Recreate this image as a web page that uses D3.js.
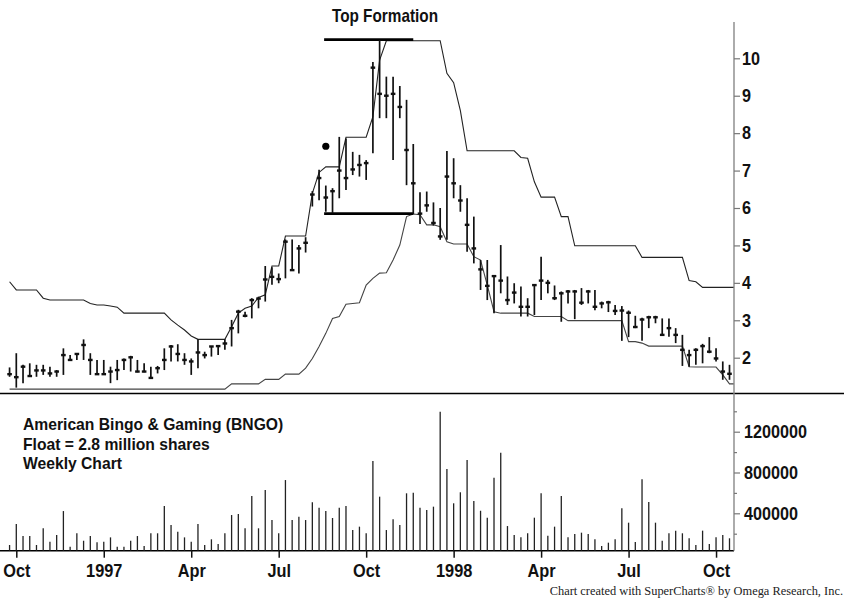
<!DOCTYPE html>
<html><head><meta charset="utf-8">
<script src="https://cdn.jsdelivr.net/npm/d3@7"></script>
<style>
html,body{margin:0;padding:0;background:#fff;}
svg{display:block;}
.cond{font-family:"Liberation Sans",Arial,Helvetica,sans-serif;font-weight:bold;}
</style></head><body>
<svg id="c" width="844" height="602"></svg>
<script>
// ---- data (weekly, Sep 1996 - Oct 1998) ----
const high = [1.74,2.12,1.81,1.85,1.81,1.81,1.76,1.67,2.25,2.07, 2.12,2.49,2.12,1.94,1.94,1.76,1.94,1.98,2.05,1.94,
  1.85,1.76,1.78,2.25,2.34,2.36,2.12,1.98,2.49,2.16, 2.31,2.34,2.49,3.01,3.28,3.23,3.59,3.63,4.45,4.42,
  4.25,5.16,5.16,5.01,5.22,6.45,7.02,6.60,6.53,7.90, 7.86,7.50,7.42,7.28,9.90,10.49,9.51,9.51,9.26,8.89,
  7.71,6.42,6.44,6.15,6.00,7.52,7.33,6.61,6.26,5.77, 4.61,4.61,4.21,5.01,4.17,3.99,3.90,3.59,3.94,4.70,
  4.08,3.93,3.77,3.81,3.81,3.86,3.81,3.81,3.50,3.52, 3.41,3.38,3.26,3.12,3.07,3.12,3.12,3.05,3.05,2.79,
  2.61,2.21,2.25,2.37,2.55,2.25,1.90,1.81];
const low = [1.49,1.20,1.32,1.49,1.49,1.54,1.49,1.49,1.54,1.94, 1.94,1.94,1.54,1.54,1.54,1.32,1.40,1.67,1.63,1.61,
  1.61,1.45,1.58,1.67,1.90,1.90,1.81,1.54,1.72,1.98, 2.03,2.07,2.21,2.30,2.65,3.08,3.05,3.32,3.50,3.95,
  3.99,4.12,4.34,4.25,4.81,6.04,6.21,5.90,5.86,6.26, 6.48,6.88,6.84,6.75,7.46,8.40,8.40,7.28,8.40,6.61,
  5.84,5.57,5.90,5.53,5.15,5.15,6.26,5.90,4.83,4.52, 3.81,3.54,3.19,3.72,3.41,3.45,3.10,3.10,3.14,3.54,
  3.72,3.54,2.96,3.45,3.03,3.41,3.45,3.27,3.32,3.22, 3.14,2.45,2.55,2.79,2.45,2.79,2.92,2.58,2.56,2.39,
  1.78,1.76,1.81,1.85,2.12,1.90,1.41,1.41];
const close = [1.56,1.48,1.76,1.51,1.66,1.66,1.58,1.63,2.07,1.94, 2.10,2.34,1.94,1.56,1.56,1.63,1.67,1.94,2.01,1.63,
  1.63,1.46,1.72,1.94,2.30,2.10,1.94,1.90,2.14,2.07, 2.30,2.31,2.38,2.79,3.23,3.12,3.54,3.58,4.09,4.16,
  4.10,5.10,4.34,4.92,5.07,6.36,6.80,6.28,6.45,7.00, 6.80,7.03,7.15,7.20,9.75,9.05,9.00,9.05,8.70,7.55,
  6.66,5.85,6.07,5.60,5.24,6.84,6.66,6.20,5.55,4.92, 4.36,3.92,4.18,4.06,3.54,3.74,3.36,3.36,3.94,4.06,
  4.00,3.59,3.72,3.77,3.77,3.47,3.77,3.36,3.45,3.48, 3.25,3.26,3.20,2.82,3.02,3.08,3.08,2.61,2.79,2.61,
  2.21,2.07,2.21,2.31,2.16,1.98,1.63,1.57];
const upperBand = [4.03,3.81,3.81,3.81,3.81,3.59,3.54,3.54,3.54,3.54, 3.54,3.54,3.45,3.41,3.41,3.38,3.35,3.19,3.19,3.19,
  3.19,3.19,3.19,3.19,3.01,2.87,2.74,2.58,2.49,2.49, 2.49,2.49,2.49,2.83,3.19,3.32,3.38,3.61,3.68,4.45,
  4.45,5.25,5.25,5.25,5.25,6.39,6.95,7.10,7.10,7.10, 7.89,7.89,7.89,7.89,8.44,9.95,10.47,10.47,10.47,10.47,
  10.47,10.47,10.47,10.47,10.47,9.60,9.35,8.60,7.53,7.53, 7.53,7.53,7.53,7.53,7.53,7.53,7.35,7.33,6.70,6.29,
  6.29,6.29,5.77,5.77,4.99,4.99,4.99,4.99,4.99,4.99, 4.99,4.99,4.99,4.99,4.68,4.68,4.68,4.68,4.68,4.68,
  4.68,4.06,4.03,3.88,3.88,3.88,3.88,3.88];
const lowerBand = [1.16,1.16,1.16,1.16,1.16,1.16,1.16,1.16,1.16,1.16, 1.16,1.16,1.16,1.16,1.16,1.16,1.16,1.16,1.16,1.16,
  1.16,1.16,1.16,1.16,1.16,1.16,1.16,1.16,1.16,1.16, 1.16,1.16,1.16,1.30,1.30,1.30,1.30,1.30,1.42,1.42,
  1.42,1.56,1.56,1.56,1.72,1.98,2.30,2.65,3.05,3.10, 3.43,3.45,3.47,3.94,4.12,4.26,4.27,4.61,5.01,5.77,
  5.84,5.82,5.55,5.55,5.50,5.10,5.04,5.04,5.04,4.70, 4.61,3.94,3.23,3.19,3.19,3.19,3.19,3.19,3.10,3.10,
  3.10,3.10,3.10,2.99,2.99,2.99,2.99,2.99,2.99,2.99, 2.99,2.99,2.43,2.43,2.39,2.31,2.31,2.31,2.31,2.31,
  2.31,1.76,1.75,1.75,1.75,1.75,1.54,1.30];
const volume = [89000,295000,177000,177000,89000,253000,122000,187000,422000,73000,
  204000,131000,177000,115000,122000,164000,73000,73000,131000,177000,
  80000,204000,204000,471000,285000,220000,164000,122000,295000,89000,
  145000,99000,204000,383000,393000,253000,570000,253000,628000,334000,
  204000,726000,334000,367000,334000,508000,455000,422000,354000,455000,
  471000,236000,269000,204000,913000,563000,236000,341000,285000,596000,
  602000,455000,432000,465000,1396000,834000,498000,606000,922000,520000,
  425000,357000,749000,994000,275000,187000,164000,204000,357000,596000,
  181000,269000,570000,164000,197000,210000,197000,145000,80000,112000,
  145000,449000,308000,119000,733000,511000,308000,131000,204000,230000,
  204000,155000,89000,230000,99000,164000,187000,155000];
const xTickIndex = [1,14,27,40,53,66,79,92,105];
const xTickLabels = ["Oct","1997","Apr","Jul","Oct","1998","Apr","Jul","Oct"];
const priceTicks = [2,3,4,5,6,7,8,9,10];
const volumeTicks = [400000,800000,1200000];
const volumeMinorTicks = [200000,600000,1000000,1400000];
const formationStart = 46.75, formationEnd = 60, formationTop = 10.5, formationBottom = 5.85;
const markerIndex = 47, markerPrice = 7.65;
const titleText = "Top Formation";
const infoLines = ["American Bingo & Gaming (BNGO)", "Float = 2.8 million shares", "Weekly Chart"];
const footerText = "Chart created with SuperCharts\u00AE by Omega Research, Inc.";

// ---- layout ----
const W = 844, H = 602;
const axisX = 734;
const sepY = 393.5, volBase = 550.7;
const svg = d3.select("#c");

const x = d3.scaleLinear().domain([0, 107]).range([9.57, 729.5]);
const yP = d3.scaleLinear().domain([2, 10]).range([357.7, 58.3]);
const yV = d3.scaleLinear().domain([0, 1400000]).range([554.1, 411.3]);

// condense text horizontally about its anchor x
function condense(sel, k) {
  sel.each(function() {
    const t = d3.select(this);
    const ax = +(t.attr("x") || 0);
    t.attr("transform", `translate(${ax},0) scale(${k},1) translate(${-ax},0)`);
  });
}

// separator & baselines
svg.append("line").attr("x1",0).attr("x2",W).attr("y1",sepY).attr("y2",sepY)
  .attr("stroke","#000").attr("stroke-width",1.6);
svg.append("line").attr("x1",0).attr("x2",axisX).attr("y1",volBase).attr("y2",volBase)
  .attr("stroke","#000").attr("stroke-width",1.4);

// bands
const idx = d3.range(high.length);
const bandLine = arr => d3.line().x(d => d[0]).y(d => yP(d[1]))(
  idx.map(i => [x(i), arr[i]]).concat([[axisX, arr[arr.length-1]]]));
svg.append("path").attr("d", bandLine(upperBand)).attr("fill","none")
  .attr("stroke","#222").attr("stroke-width",1.1);
svg.append("path").attr("d", bandLine(lowerBand)).attr("fill","none")
  .attr("stroke","#444").attr("stroke-width",1.1);

// formation box
[formationTop, formationBottom].forEach(p => {
  svg.append("line").attr("x1", x(formationStart)).attr("x2", x(formationEnd))
    .attr("y1", yP(p)).attr("y2", yP(p)).attr("stroke","#000").attr("stroke-width",2.6);
});

// price bars
const bars = svg.append("g");
bars.selectAll("line.hl").data(idx).join("line").attr("class","hl")
  .attr("x1", i => x(i)).attr("x2", i => x(i))
  .attr("y1", i => yP(high[i])).attr("y2", i => yP(low[i]))
  .attr("stroke","#111").attr("stroke-width",1.7);
bars.selectAll("line.cl").data(idx).join("line").attr("class","cl")
  .attr("x1", i => x(i) - 2.3).attr("x2", i => x(i) + 2.3)
  .attr("y1", i => yP(close[i])).attr("y2", i => yP(close[i]))
  .attr("stroke","#111").attr("stroke-width",2.4);

// marker
svg.append("circle").attr("cx", x(markerIndex)).attr("cy", yP(markerPrice)).attr("r",3.6).attr("fill","#000");

// volume bars
svg.append("g").selectAll("line").data(idx).join("line")
  .attr("x1", i => x(i)).attr("x2", i => x(i))
  .attr("y1", volBase).attr("y2", i => yV(volume[i]))
  .attr("stroke","#222").attr("stroke-width",1.3);

// right axis line
svg.append("line").attr("x1",axisX).attr("x2",axisX).attr("y1",22).attr("y2",volBase)
  .attr("stroke","#888").attr("stroke-width",1.4);

// price axis
const pAx = svg.append("g").attr("transform",`translate(${axisX},0)`)
  .call(d3.axisRight(yP).tickValues(priceTicks).tickSize(6).tickPadding(2).tickFormat(d3.format("d")));
pAx.select(".domain").remove();
pAx.selectAll("line").attr("stroke","#777").attr("stroke-width",1.2);
pAx.selectAll("text").attr("class","cond").attr("font-size",18).attr("fill","#111").call(condense, 0.9);

// volume axis
const vAx = svg.append("g").attr("transform",`translate(${axisX},0)`)
  .call(d3.axisRight(yV).tickValues(volumeTicks).tickSize(6).tickPadding(4).tickFormat(d3.format("d")));
vAx.select(".domain").remove();
vAx.selectAll("line").attr("stroke","#777").attr("stroke-width",1.2);
vAx.selectAll("text").attr("class","cond").attr("font-size",18).attr("fill","#111").call(condense, 0.9);
const vMin = svg.append("g").attr("transform",`translate(${axisX},0)`)
  .call(d3.axisRight(yV).tickValues(volumeMinorTicks).tickSize(3).tickFormat(""));
vMin.select(".domain").remove();
vMin.selectAll("line").attr("stroke","#777").attr("stroke-width",1.2);

// x axis
const xAx = svg.append("g").attr("transform",`translate(0,${volBase})`)
  .call(d3.axisBottom(x).tickValues(xTickIndex).tickSize(7).tickPadding(5.5).tickFormat((d,i) => xTickLabels[i]));
xAx.select(".domain").remove();
xAx.selectAll("line").attr("stroke","#111").attr("stroke-width",1.5);
xAx.selectAll("text").attr("class","cond").attr("font-size",19).attr("fill","#111").call(condense, 0.86);

// title
svg.append("text").attr("class","cond").attr("x",385).attr("y",21.7).attr("text-anchor","middle")
  .attr("font-size",18.7).attr("fill","#111").text(titleText).call(condense, 0.82);

// info block
svg.append("g").selectAll("text").data(infoLines).join("text").attr("class","cond")
  .attr("x",23).attr("y",(d,i) => 430 + i*19.7).attr("font-size",16).attr("fill","#111").text(d => d)
  .call(condense, 0.98);

// footer
svg.append("text").attr("x",843).attr("y",595).attr("text-anchor","end")
  .attr("font-family","'Liberation Serif','Times New Roman',serif").attr("font-size",12.4).attr("fill","#222")
  .text(footerText);
</script>
</body></html>
